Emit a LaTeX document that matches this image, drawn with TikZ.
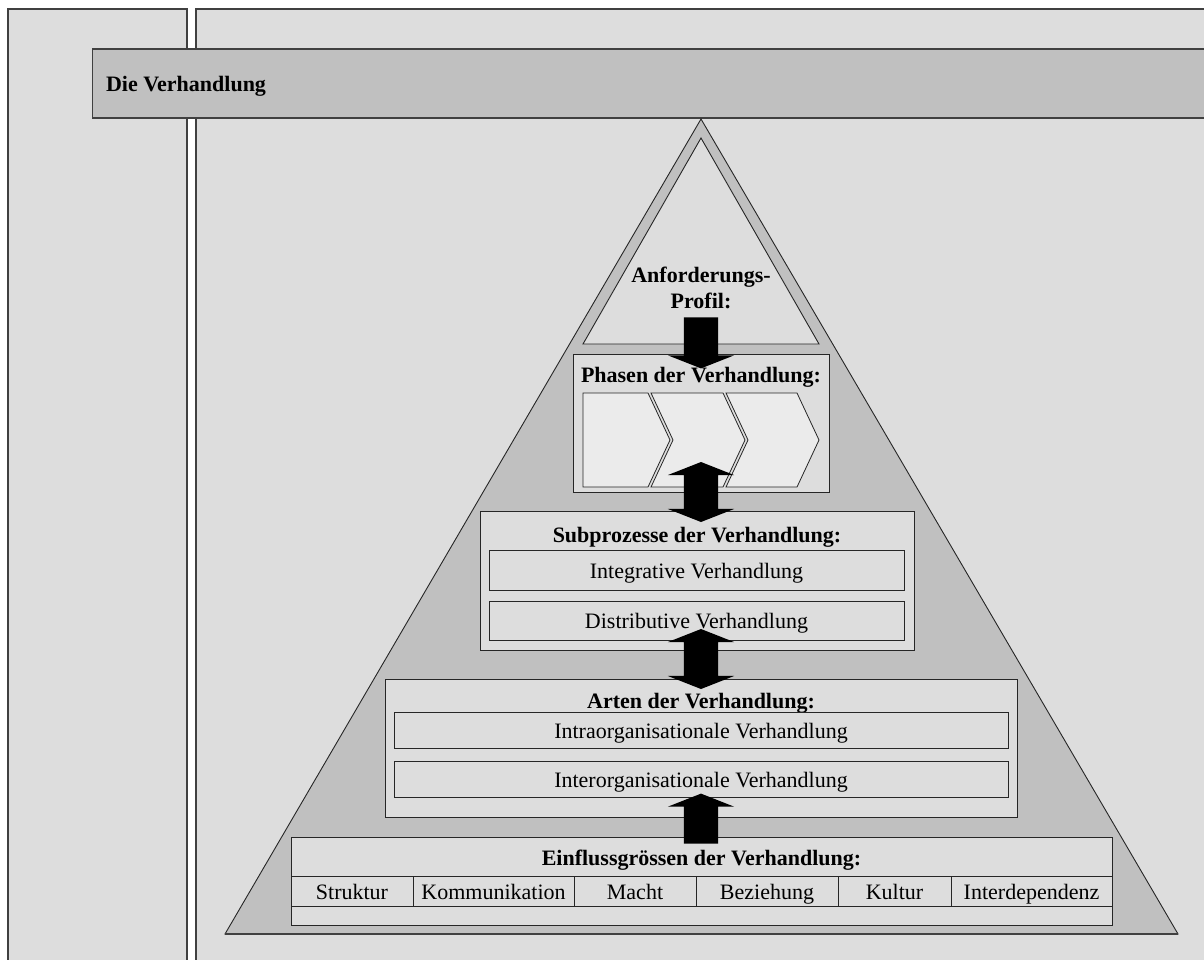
\documentclass[tikz,border=0pt]{standalone}
\usepackage{fontspec}
\setmainfont{Liberation Serif}
\usetikzlibrary{shapes.arrows}
\definecolor{panelgray}{HTML}{DDDDDD}
\definecolor{midgray}{HTML}{C0C0C0}
\definecolor{chevgray}{HTML}{EBEBEB}
\definecolor{edgegray}{HTML}{404040}
\begin{document}
\begin{tikzpicture}[x=1pt,y=-1pt,
  every node/.style={inner sep=0pt, outer sep=0pt},
  txt/.style={font=\fontsize{22}{27}\selectfont, anchor=base},
  btxt/.style={font=\fontsize{22}{27}\selectfont\bfseries, anchor=base},
  panel/.style={draw=edgegray, line width=1.4pt, fill=panelgray, anchor=north west},
  box/.style={draw=black!85, line width=0.9pt, fill=panelgray, rectangle},
  cell/.style={draw=black!85, line width=0.9pt, rectangle, minimum height=30pt},
  chev/.style={draw=black!85, line width=0.8pt, fill=chevgray},
  downarrow/.style={single arrow, fill=black, rotate=-90, inner xsep=0pt, inner ysep=17pt,
    single arrow head extend=16pt, single arrow tip angle=137},
  uparrow/.style={downarrow, rotate=180},
  bothways/.style={double arrow, fill=black, rotate=90, inner xsep=0pt, inner ysep=17pt,
    double arrow head extend=16pt, double arrow tip angle=137}
]
\useasboundingbox (0,0) rectangle (1204,959);
\fill[white] (0,0) rectangle (1204,959);

% side panels
\node[panel, minimum width=179pt, minimum height=970pt] (leftpanel) at (8,9) {};
\node[panel, minimum width=1030pt, minimum height=970pt] (rightpanel) at (196,9) {};

% title banner
\node[anchor=north west, fill=midgray, minimum width=1130pt, minimum height=69pt] (banner) at (92,49) {};
\draw[edgegray, line width=0.9pt] (banner.north west) -- (banner.south west);
\draw[edgegray, line width=1.8pt] (banner.north west) -- (banner.north east)
  (banner.south west) -- (banner.south east);
\node[btxt] (bannertext) at (186,91) {Die Verhandlung};

% pyramid
\draw[black!85, line width=0.9pt, fill=midgray] (225,934) -- (701,119) -- (1178,934) -- cycle;
\draw[edgegray, line width=1.6pt] (225,934) -- (1178,934);
\draw[black!85, line width=0.9pt, fill=panelgray] (583,344) -- (701,138) -- (819,344) -- cycle;
\node[btxt] (profil1) at (701,282) {Anforderungs-};
\node[btxt] (profil2) at (701,308) {Profil:};

% phases
\node[box, minimum width=256pt, minimum height=138pt] (phasen) at (701,423) {};
\node[btxt] (phasentitle) at (701,382) {Phasen der Verhandlung:};
\draw[chev] (583,393) -- (648,393) -- (670,440) -- (648,487) -- (583,487) -- cycle;
\draw[chev] (651,393) -- (723,393) -- (745,440) -- (723,487) -- (651,487) -- (673,440) -- cycle;
\draw[chev] (726,393) -- (797,393) -- (819,440) -- (797,487) -- (726,487) -- (748,440) -- cycle;

% sub-processes
\node[box, minimum width=434pt, minimum height=139pt] (subprozesse) at (697,580.5) {};
\node[btxt] (subtitle) at (697,542) {Subprozesse der Verhandlung:};
\node[box, minimum width=415pt, minimum height=40pt] (integrativ) at (696.5,570) {};
\node[txt] at (696.5,578) {Integrative Verhandlung};
\node[box, minimum width=415pt, minimum height=39pt] (distributiv) at (696.5,620.5) {};
\node[txt] at (696.5,628) {Distributive Verhandlung};

% kinds
\node[box, minimum width=632pt, minimum height=138pt] (arten) at (701,748) {};
\node[btxt] (artentitle) at (701,708) {Arten der Verhandlung:};
\node[box, minimum width=614pt, minimum height=36pt] (intra) at (701,730) {};
\node[txt] at (701,738) {Intraorganisationale Verhandlung};
\node[box, minimum width=614pt, minimum height=36pt] (inter) at (701,779) {};
\node[txt] at (701,787) {Interorganisationale Verhandlung};

% influencing factors
\node[box, minimum width=821pt, minimum height=88pt] (einfluss) at (701.5,881) {};
\node[btxt] (einflusstitle) at (701.5,865) {Einflussgrössen der Verhandlung:};
\node[cell, minimum width=122pt] (c1) at (352,891) {};
\node[cell, minimum width=161pt] (c2) at (493.5,891) {};
\node[cell, minimum width=122pt] (c3) at (635,891) {};
\node[cell, minimum width=142pt] (c4) at (767,891) {};
\node[cell, minimum width=113pt] (c5) at (894.5,891) {};
\node[cell, minimum width=161pt] (c6) at (1031.5,891) {};
\node[txt] at (352,899) {Struktur};
\node[txt] at (493.5,899) {Kommunikation};
\node[txt] at (635,899) {Macht};
\node[txt] at (767,899) {Beziehung};
\node[txt] at (894.5,899) {Kultur};
\node[txt] at (1031.5,899) {Interdependenz};

% block arrows between the levels
\node[downarrow, minimum height=51pt] (a1) at (701,339.5) {};
\node[bothways, minimum height=60pt] (a2) at (701,492) {};
\node[bothways, minimum height=60pt] (a3) at (701,659) {};
\node[uparrow, minimum height=50pt] (a4) at (701,822) {};
\end{tikzpicture}
\end{document}
